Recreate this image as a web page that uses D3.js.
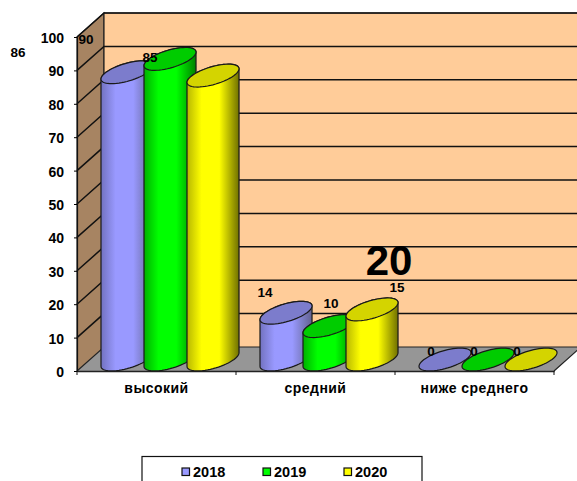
<!DOCTYPE html>
<html><head><meta charset="utf-8">
<style>html,body{margin:0;padding:0;background:#fff;overflow:hidden}svg{display:block}
text{font-family:"Liberation Sans",Arial,sans-serif;font-weight:bold;fill:#000}</style>
<script src="https://cdn.jsdelivr.net/npm/d3@7/dist/d3.min.js"></script>
</head><body><svg id="c" width="577" height="481"></svg>
<script>
const categories = ["высокий","средний","ниже среднего"];
const seriesNames = ["2018","2019","2020"];
const values2018 = [86,14,0];
const values2019 = [90,10,0];
const values2020 = [85,15,0];
const yTicks = [0,10,20,30,40,50,60,70,80,90,100];
const note = "20";

const allValues = [values2018,values2019,values2020];
const sideColors = [["#7272c0","#9999ff","#9999ff","#62628f"],["#00b000","#00ff00","#00ff00","#008000"],["#b8b800","#ffff00","#ffff00","#707000"]];
const capColors = ["#7c7ccc","#00cc00","#d4d400"];

const dx=27,dy=24;
const svg=d3.select("#c");
const x=d3.scaleBand().domain(categories).range([77,554]);
const y=d3.scaleLinear().domain([0,100]).range([371,37]);
const sx=d3.scaleBand().domain(seriesNames).range([24,153]);
const line=d3.line();

const defs=svg.append("defs");
sideColors.forEach((c,i)=>{
  const g=defs.append("linearGradient").attr("id","g"+i);
  [0,.28,.62,1].forEach((o,j)=>g.append("stop").attr("offset",o).attr("stop-color",c[j]));
});

const x0=x.range()[0],x1=x.range()[1];
svg.append("path").attr("d",line([[x0,y(0)],[x0,y(100)],[x0+dx,y(100)-dy],[x0+dx,y(0)-dy]]))
  .attr("fill","#a78462").attr("stroke","#222").attr("stroke-width",1.2);
svg.append("path").attr("d",line([[x0+dx,y(0)-dy],[x0+dx,y(100)-dy],[x1+dx,y(100)-dy],[x1+dx,y(0)-dy]]))
  .attr("fill","#ffcc99").attr("stroke","#222").attr("stroke-width",1.2);
svg.append("path").attr("d",line([[x0,y(0)],[x0+dx,y(0)-dy],[x1+dx,y(0)-dy],[x1,y(0)]]))
  .attr("fill","#969696").attr("stroke","#222").attr("stroke-width",1.2);
yTicks.slice(1).forEach(t=>{
  svg.append("path").attr("fill","none").attr("stroke","#111").attr("stroke-width",1.5)
    .attr("d",line([[x0,y(t)],[x0+dx,y(t)-dy],[x1+dx,y(t)-dy]]));
});

const ya=svg.append("g").attr("transform",`translate(${x0},0)`)
  .call(d3.axisLeft(y).tickValues(yTicks).tickSize(3).tickPadding(10));
ya.select(".domain").attr("stroke","#111").attr("stroke-width",1.2);
ya.selectAll("text").style("font-size","14px").attr("dy","0.39em");
const xa=svg.append("g").attr("transform",`translate(0,${y(0)})`)
  .call(d3.axisBottom(x).tickSize(0).tickPadding(12));
xa.select(".domain").attr("stroke","#222").attr("stroke-width",1.5);
xa.selectAll("text").style("font-size","14px").style("letter-spacing","0.45px");
categories.concat([null]).forEach(c=>{
  const px=c===null?x1:x(c);
  xa.append("line").attr("x1",px).attr("x2",px).attr("y1",0).attr("y2",4).attr("stroke","#111");
});

const rx=sx.step()*0.605, k=6.8, ry=9.2, baseLift=11.5;
const ell=(cx,cy,t)=>[cx+rx*Math.cos(t),cy-k*Math.cos(t)+ry*Math.sin(t)];
const centre=(cat,s)=>x(cat)+sx(s)+rx;
categories.forEach(cat=>{
  seriesNames.forEach((s,si)=>{
    const v=allValues[si][categories.indexOf(cat)];
    const cx=centre(cat,s);
    const by=y(0)-baseLift, ty=y(v)-baseLift;
    const g=svg.append("g");
    if(v>0){
      const bottom=d3.range(0,181,6).map(a=>ell(cx,by,a*Math.PI/180));
      const top=d3.range(180,361,6).map(a=>ell(cx,ty,a*Math.PI/180));
      g.append("path").attr("d",line(bottom.concat(top))+"Z")
        .attr("fill",`url(#g${si})`).attr("stroke","#1a1a1a").attr("stroke-width",1.2);
    }
    const cap=d3.range(0,360,6).map(a=>ell(cx,ty,a*Math.PI/180));
    g.append("path").attr("d",line(cap)+"Z").attr("fill",capColors[si])
      .attr("stroke","#1a1a1a").attr("stroke-width",1.2);
  });
});

// data labels, hand-placed in the source chart
const labelDX=[[-109,-84,-63],[-21,2,25],[-14,-14,-14]];
const labelDY=[[-15,-15,-14],[-16,-18,-17],[-4,-4,-4]];
categories.forEach((cat,ci)=>{
  seriesNames.forEach((s,si)=>{
    const v=allValues[si][ci];
    svg.append("text").attr("x",centre(cat,s)+labelDX[ci][si]).attr("y",y(v)-baseLift+labelDY[ci][si])
      .attr("text-anchor","middle").style("font-size","13.5px").text(v);
  });
});

svg.append("text").attr("x",389).attr("y",275).attr("text-anchor","middle").style("font-size","42px").text(note);

const lg=svg.append("g");
lg.append("rect").attr("x",142).attr("y",456.5).attr("width",280).attr("height",40).attr("fill","#fff").attr("stroke","#111").attr("stroke-width",1.2);
const lx=d3.scalePoint().domain(seriesNames).range([182,344]);
seriesNames.forEach((s,i)=>{
  lg.append("rect").attr("x",lx(s)).attr("y",468).attr("width",7.5).attr("height",7.5).attr("fill",sideColors[i][1]).attr("stroke","#111").attr("stroke-width",1.2);
  lg.append("text").attr("x",lx(s)+11).attr("y",477).style("font-size","14.5px").text(s);
});
</script></body></html>
